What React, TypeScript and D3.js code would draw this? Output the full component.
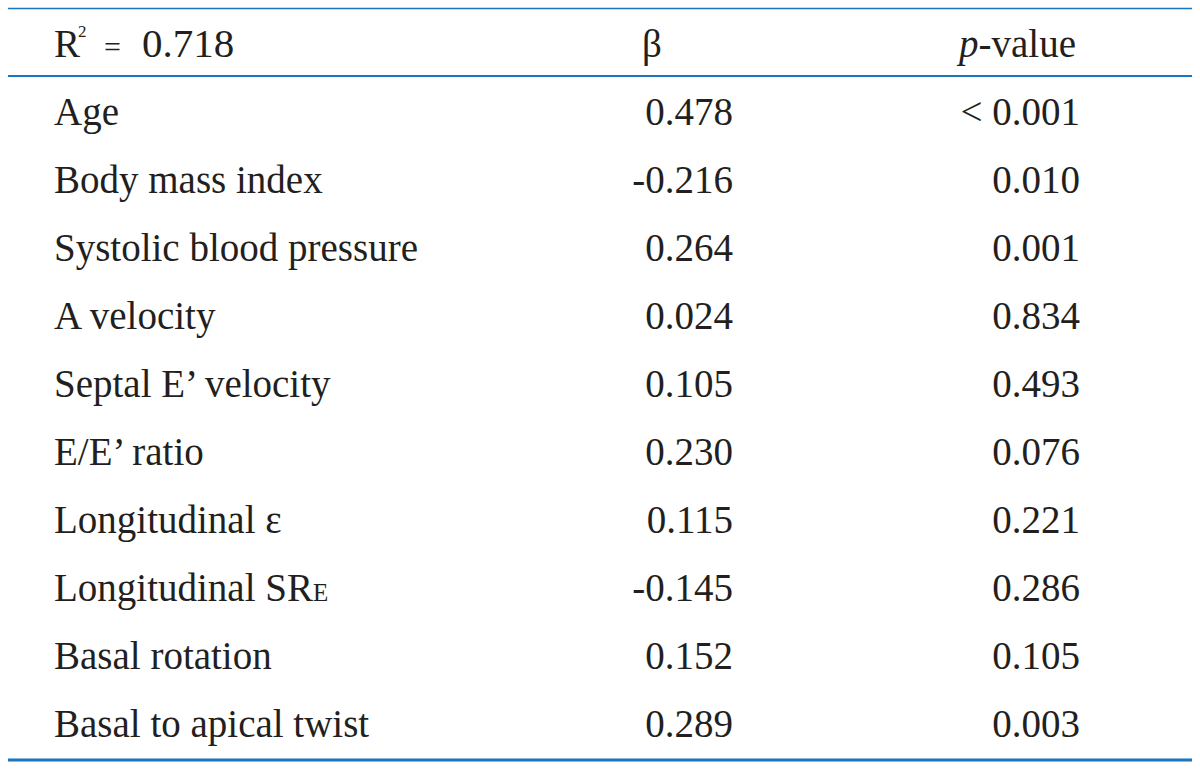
import React from "react";
import * as d3 from "d3";

const headerLabel = "R";
const headerSup = "2";
const headerEq = "=";
const headerValue = "0.718";
const betaHeader = "β";
const pHeaderItalic = "p";
const pHeaderRest = "-value";

const variables = [
  "Age",
  "Body mass index",
  "Systolic blood pressure",
  "A velocity",
  "Septal E’ velocity",
  "E/E’ ratio",
  "Longitudinal ε",
  "Longitudinal SR",
  "Basal rotation",
  "Basal to apical twist",
];
const variableSubs = ["", "", "", "", "", "", "", "E", "", ""];
const betas = ["0.478", "-0.216", "0.264", "0.024", "0.105", "0.230", "0.115", "-0.145", "0.152", "0.289"];
const pValues = ["< 0.001", "0.010", "0.001", "0.834", "0.493", "0.076", "0.221", "0.286", "0.105", "0.003"];

const W = 1200;
const H = 769;
const FONT = "'Liberation Serif', 'Times New Roman', serif";
const TEXT = "#231f20";
const RULE = "#1b75bc";

export default function App() {
  const y = d3.scaleLinear().domain([0, variables.length]).range([57, 57 + 68 * variables.length]);
  const x = d3.scaleLinear().domain([0, 1]).range([8, 1192]);
  const labelX = 54;
  const betaX = 733;
  const pX = 1080;
  const fs = 39;

  return (
    <svg width={W} height={H} style={{ position: "absolute", left: 0, top: 0, background: "#fff" }} fontFamily={FONT}>
      <rect x={0} y={0} width={W} height={H} fill="#fff" />
      <line x1={x(0)} x2={x(1)} y1={8.5} y2={8.5} stroke={RULE} strokeWidth={1.6} />
      <line x1={x(0)} x2={x(1)} y1={76} y2={76} stroke={RULE} strokeWidth={2} />
      <line x1={x(0)} x2={x(1)} y1={760} y2={760} stroke={RULE} strokeWidth={3} />

      <text y={y(0)} fontSize={fs} fill={TEXT}>
        <tspan x={labelX}>{headerLabel}</tspan>
        <tspan x={78} fontSize={17} dy={-20}>{headerSup}</tspan>
        <tspan x={104} dy={20} fontSize={30}>{headerEq}</tspan>
        <tspan x={142} fontSize={41}>{headerValue}</tspan>
      </text>
      <text x={652} y={y(0)} fontSize={fs} fill={TEXT} textAnchor="middle">{betaHeader}</text>
      <text x={1076} y={y(0)} fontSize={fs} fill={TEXT} textAnchor="end">
        <tspan fontStyle="italic">{pHeaderItalic}</tspan>
        {pHeaderRest}
      </text>

      {variables.map((v, i) => (
        <g key={v}>
          <text x={labelX} y={y(i + 1)} fontSize={fs} fill={TEXT}>
            {v}
            {variableSubs[i] ? <tspan fontSize={25}>{variableSubs[i]}</tspan> : null}
          </text>
          <text x={betaX} y={y(i + 1)} fontSize={fs} fill={TEXT} textAnchor="end">{betas[i]}</text>
          <text x={pX} y={y(i + 1)} fontSize={fs} fill={TEXT} textAnchor="end">{pValues[i]}</text>
        </g>
      ))}
    </svg>
  );
}
